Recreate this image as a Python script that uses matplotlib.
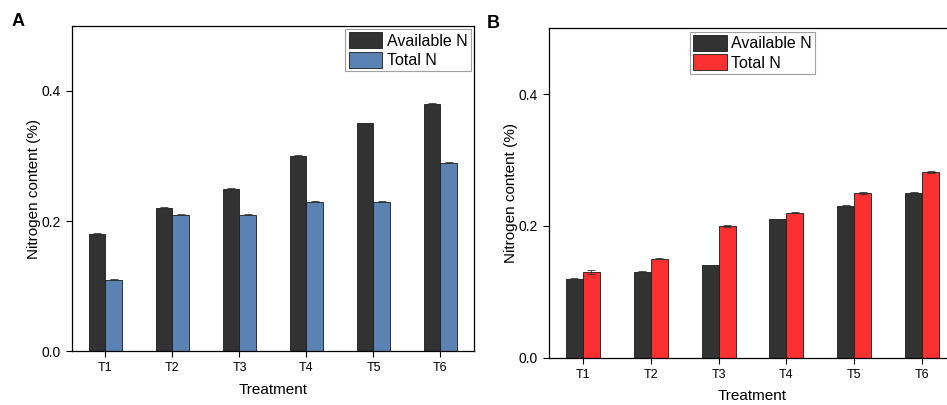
import numpy as np
import matplotlib.pyplot as plt

plt.rcParams['font.family'] = ['Liberation Sans', 'DejaVu Sans']

treatments = ['T1', 'T2', 'T3', 'T4', 'T5', 'T6']

# panel A
avail_a = [0.18, 0.22, 0.25, 0.30, 0.35, 0.38]
total_a = [0.11, 0.21, 0.21, 0.23, 0.23, 0.29]
avail_a_err = [0.001, 0.001, 0.001, 0.001, 0.001, 0.001]
total_a_err = [0.001, 0.001, 0.001, 0.001, 0.001, 0.001]

# panel B
avail_b = [0.12, 0.13, 0.14, 0.21, 0.23, 0.25]
total_b = [0.13, 0.15, 0.20, 0.22, 0.25, 0.282]
avail_b_err = [0.001, 0.001, 0.001, 0.001, 0.001, 0.001]
total_b_err = [0.003, 0.001, 0.002, 0.001, 0.002, 0.001]

DARK = '#323232'
BLUE = '#5a82b2'
RED = '#fb3030'


def draw_panel(ax, avail, avail_err, total, total_err, color, legend_loc, legend_anchor):
    x = np.arange(1, len(treatments) + 1)
    w = 0.25
    ekw = dict(elinewidth=0.6, capthick=0.6, ecolor='#333333')
    ax.bar(x - w / 2, avail, w, yerr=avail_err, capsize=3, color=DARK,
           edgecolor='#1a1a1a', linewidth=0.6, error_kw=ekw, label='Available N')
    ax.bar(x + w / 2, total, w, yerr=total_err, capsize=3, color=color,
           edgecolor='#1a1a1a', linewidth=0.6, error_kw=ekw, label='Total N')
    ax.set_xlim(0.5, 6.5)
    ax.set_ylim(0, 0.5)
    ax.set_xticks(x)
    ax.set_xticklabels(treatments)
    ax.set_yticks([0.0, 0.2, 0.4])
    ax.set_yticklabels(['0.0', '0.2', '0.4'])
    ax.tick_params(direction='out', length=4.5, width=0.8)
    ax.tick_params(axis='x', labelsize=9)
    ax.tick_params(axis='y', labelsize=10)
    ax.set_xlabel('Treatment', fontsize=11, labelpad=6)
    ax.set_ylabel('Nitrogen content (%)', fontsize=11, labelpad=0.5)
    for s in ax.spines.values():
        s.set_linewidth(0.9)
    leg = ax.legend(loc=legend_loc, bbox_to_anchor=legend_anchor, fontsize=11.5,
                    fancybox=False, handlelength=2.1, handleheight=1.15,
                    labelspacing=0.2, handletextpad=0.3, borderpad=0.2,
                    borderaxespad=0.2)
    leg.get_frame().set_edgecolor('#888888')
    leg.get_frame().set_linewidth(0.8)


fig = plt.figure(figsize=(9.47, 4.05), dpi=100)
ax1 = fig.add_axes([0.076, 0.133, 0.4245, 0.803])
ax2 = fig.add_axes([0.5797, 0.117, 0.4298, 0.813])

draw_panel(ax1, avail_a, avail_a_err, total_a, total_a_err, BLUE, 'upper right', (1.0, 1.0))
draw_panel(ax2, avail_b, avail_b_err, total_b, total_b_err, RED, 'upper center', (0.5, 1.0))

fig.text(0.012, 0.935, 'A', fontsize=13, fontweight='bold')
fig.text(0.514, 0.93, 'B', fontsize=13, fontweight='bold')

fig.savefig('out.png', dpi=100)
